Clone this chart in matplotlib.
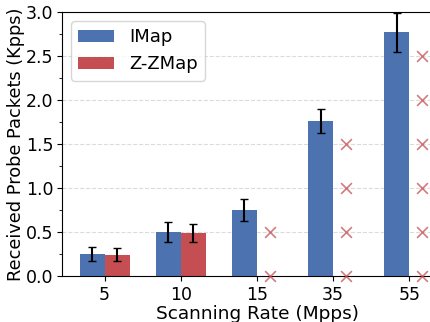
import matplotlib.pyplot as plt
import numpy as np
from matplotlib.ticker import MultipleLocator

rates = ['5', '10', '15', '35', '55']
imap_vals = [0.25, 0.50, 0.75, 1.76, 2.77]
imap_err = [0.08, 0.11, 0.13, 0.14, 0.22]
zzmap_vals = [0.24, 0.49]
zzmap_err = [0.075, 0.10]

# failed Z-ZMap runs marked with crosses
fail_idx = [2, 2, 3, 3, 3, 3, 4, 4, 4, 4, 4, 4]
fail_y = [0.0, 0.5, 0.0, 0.5, 1.0, 1.5, 0.0, 0.5, 1.0, 1.5, 2.0, 2.5]

blue = '#4C72B0'
red = '#C44E52'
width = 0.33

fig = plt.figure(figsize=(4.3, 3.22), dpi=100)
ax = fig.add_axes([62 / 430, 46 / 322, 390 / 430, 264 / 322])

x = np.arange(len(rates))
ax.bar(x - width / 2, imap_vals, width, yerr=imap_err, color=blue,
       label='IMap', capsize=3, error_kw={'elinewidth': 1.5, 'capthick': 1})
xz = np.arange(len(zzmap_vals))
ax.bar(xz + width / 2, zzmap_vals, width, yerr=zzmap_err, color=red,
       label='Z-ZMap', capsize=3, error_kw={'elinewidth': 1.5, 'capthick': 1})
ax.scatter(np.array(fail_idx) + width / 2, fail_y, marker='x', s=60,
           color=red, alpha=0.75, linewidths=1.2, clip_on=False, zorder=3)

ax.set_xticks(x)
ax.set_xticklabels(rates)
ax.set_xlim(-0.56, 4.56)
ax.set_ylim(0, 3.0)
ax.yaxis.set_major_locator(MultipleLocator(0.5))
ax.yaxis.set_minor_locator(MultipleLocator(0.25))
ax.tick_params(labelsize=12.5)
ax.tick_params(axis='y', pad=2.5)
ax.grid(axis='y', linestyle='--', color='#cccccc', alpha=0.7)
ax.set_axisbelow(True)
ax.set_xlabel('Scanning Rate (Mpps)', fontsize=13.3, labelpad=1)
ax.set_ylabel('Received Probe Packets (Kpps)', fontsize=12.8, labelpad=1)
ax.legend(loc='upper left', fontsize=13)

fig.savefig('out.png', dpi=100)
